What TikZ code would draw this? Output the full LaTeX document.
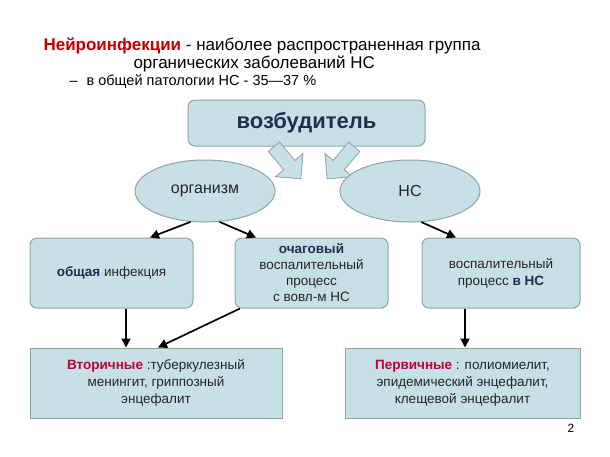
\documentclass[tikz,border=0pt]{standalone}
\usepackage{fontspec}
\setmainfont{Liberation Sans}
\usetikzlibrary{shapes.arrows,arrows.meta,shapes.geometric}
\definecolor{boxfill}{HTML}{C6E0E6}
\definecolor{boxline}{HTML}{8FA3A8}
\definecolor{navy}{HTML}{1F2F4F}
\definecolor{crim}{HTML}{C0003A}
\definecolor{tred}{HTML}{C00000}
\tikzset{
  rbox/.style={draw=boxline,line width=1pt,fill=boxfill,rounded corners=7pt,align=center,font=\fontsize{13.5}{17}\selectfont,text=black!85},
  sbox/.style={draw=boxline,line width=1pt,fill=boxfill,align=center,font=\fontsize{13.5}{17}\selectfont,text=black!85},
  ell/.style={draw=boxline,line width=1pt,fill=boxfill,ellipse,font=\fontsize{16}{18}\selectfont,text=black!85},
  arr/.style={-{Triangle[length=9pt,width=9pt]},line width=1.7pt},
  barr/.style={single arrow,draw=boxline,fill=boxfill,line width=0.8pt,minimum height=42pt,minimum width=36pt,single arrow head extend=5pt,inner sep=3pt}
}
\begin{document}
\begin{tikzpicture}[x=1pt,y=-1pt]
\useasboundingbox (0,0) rectangle (610,456);
\fill[white] (0,0) rectangle (610,456);
\node[anchor=base west,font=\fontsize{17}{20}\selectfont] (t1) at (40,50) {\textcolor{tred}{\textbf{Нейроинфекции}} - наиболее распространенная группа};
\node[anchor=base west,font=\fontsize{17}{20}\selectfont] (t2) at (130,68) {органических заболеваний НС};
\node[anchor=base west,font=\fontsize{14.5}{17}\selectfont] (t3) at (66,85) {–\hspace{9pt}в общей патологии НС - 35—37 \%};
\node[rbox,minimum width=237pt,minimum height=46pt,font=\bfseries\fontsize{22}{24}\selectfont,text=navy] (vz) at (306.5,123) {возбудитель};
\node[barr,rotate=-50] (a1) at (285,160) {};
\node[barr,rotate=-130] (a2) at (343,160) {};
\node[ell,minimum width=140pt,minimum height=62pt] (org) at (205,191) {организм};
\node[ell,minimum width=140pt,minimum height=62pt] (ns) at (410,191) {НС};
\node[rbox,minimum width=163pt,minimum height=70pt] (ob) at (111.5,273) {\textbf{\textcolor{navy}{общая}} инфекция};
\node[rbox,minimum width=153pt,minimum height=70pt,font=\fontsize{13.5}{16}\selectfont] (och) at (311.5,273) {\textbf{\textcolor{navy}{очаговый}}\\воспалительный\\процесс\\с вовл-м НС};
\node[rbox,minimum width=158pt,minimum height=70pt] (vos) at (501,273) {воспалительный\\процесс \textbf{\textcolor{navy}{в НС}}};
\node[sbox,minimum width=252pt,minimum height=70pt] (vt) at (156,383) {\textbf{\textcolor{crim}{Вторичные}} :туберкулезный\\менингит, гриппозный\\энцефалит};
\node[sbox,minimum width=235pt,minimum height=70pt] (pe) at (462.5,383) {\textbf{\textcolor{crim}{Первичные}} : полиомиелит,\\эпидемический энцефалит,\\клещевой энцефалит};
\node[font=\fontsize{12}{14}\selectfont] (pg) at (571,428) {2};
\draw[arr] (org.-115) -- (ob.north -| 150,0);
\draw[arr] (org.-65) -- (och.north -| 256,0);
\draw[arr] (ns.-70) -- (vos.north -| 456,0);
\draw[arr] (ob.south -| 126,0) -- (vt.north -| 126,0);
\draw[arr] (och.south -| 240,0) -- (vt.north -| 158,0);
\draw[arr] (vos.south -| 465,0) -- (pe.north -| 465,0);
\end{tikzpicture}
\end{document}
